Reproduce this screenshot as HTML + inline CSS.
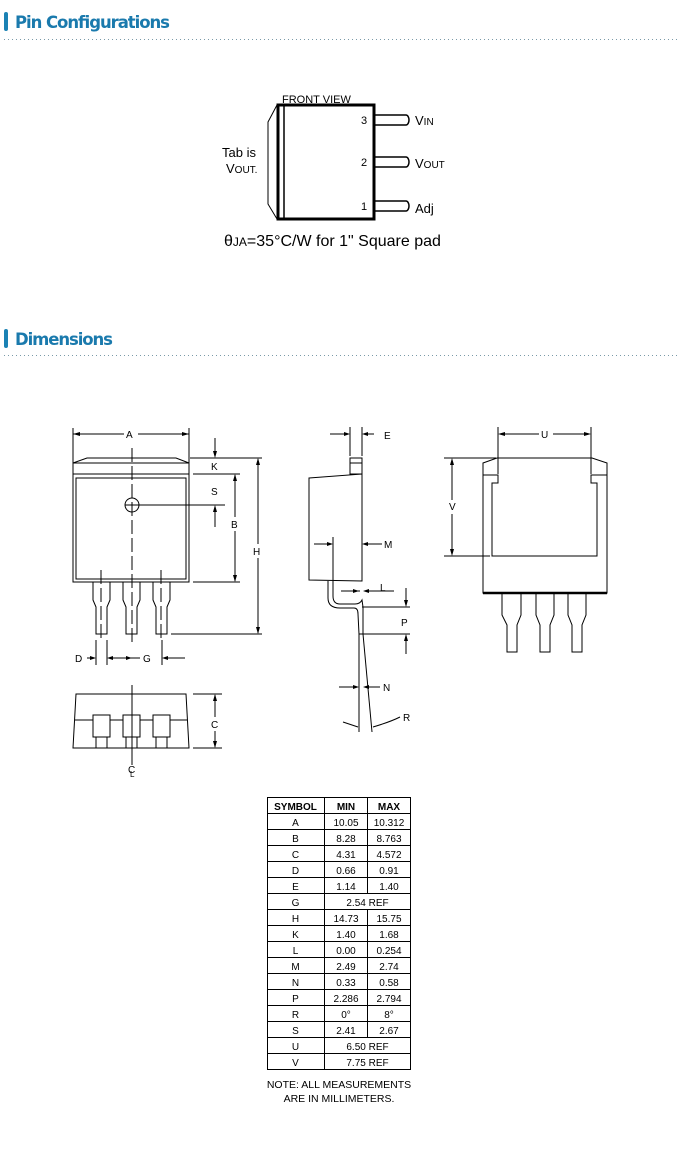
<!DOCTYPE html>
<html><head><meta charset="utf-8"><style>
body{margin:0;background:#fff;width:680px;height:1146px;overflow:hidden;font-family:"Liberation Sans",sans-serif}
</style></head><body>
<svg width="680" height="1146" viewBox="0 0 680 1146" xmlns="http://www.w3.org/2000/svg" font-family="Liberation Sans, sans-serif">
<rect x="4" y="12" width="4" height="19" rx="2" fill="#1b82b4"/>
<text x="15" y="28" font-size="16.5" font-weight="bold" fill="#1a7aad" font-family="DejaVu Sans, sans-serif" textLength="155">Pin Configurations</text>
<line x1="4" y1="39.5" x2="680" y2="39.5" stroke="#7a9aa8" stroke-dasharray="1 3"/>
<rect x="4" y="329" width="4" height="19" rx="2" fill="#1b82b4"/>
<text x="15" y="345" font-size="16.5" font-weight="bold" fill="#1a7aad" font-family="DejaVu Sans, sans-serif" textLength="98">Dimensions</text>
<line x1="4" y1="355.5" x2="680" y2="355.5" stroke="#7a9aa8" stroke-dasharray="1 3"/>

<g stroke="#000" fill="none">
<path d="M277,105 L268,122 L268,204 L277,219" stroke-width="1"/>
<rect x="278" y="105" width="96" height="114" stroke-width="3"/>
<line x1="284" y1="105" x2="284" y2="219" stroke-width="1.5"/>
<path d="M375,115 H406 a3,5 0 0 1 0,10 H375" stroke-width="1.5"/>
<path d="M375,157 H406 a3,5 0 0 1 0,10 H375" stroke-width="1.5"/>
<path d="M375,201 H406 a3,5 0 0 1 0,10 H375" stroke-width="1.5"/>
</g>
<g font-size="11">
<text x="282" y="103">FRONT VIEW</text>
<text x="361" y="124">3</text><text x="361" y="166">2</text><text x="361" y="210">1</text>
<text x="415" y="125" font-size="13">V<tspan font-size="10">IN</tspan></text>
<text x="415" y="168" font-size="13">V<tspan font-size="10">OUT</tspan></text>
<text x="415" y="213" font-size="13">Adj</text>
<text x="222" y="157" font-size="13">Tab is</text>
<text x="226" y="173" font-size="13">V<tspan font-size="10">OUT.</tspan></text>
<text x="224" y="246" font-size="16">θ<tspan font-size="12">JA</tspan>=35°C/W for 1" Square pad</text>
</g>

<g stroke="#000" fill="none" stroke-width="1">
<line x1="73" y1="428" x2="73" y2="464"/><line x1="189" y1="428" x2="189" y2="464"/>
<line x1="73" y1="434" x2="124" y2="434"/><line x1="138" y1="434" x2="189" y2="434"/>
<path d="M73,463 L87,458 L176,458 L189,463 Z M73,463 V582 H189 V463"/>
<line x1="73" y1="474" x2="189" y2="474"/>
<rect x="76" y="478" width="110" height="101"/>
<circle cx="132" cy="505" r="7"/>
<line x1="125" y1="505" x2="139" y2="505"/><line x1="139" y1="505" x2="225" y2="505"/>
<line x1="132" y1="448" x2="132" y2="642" stroke-dasharray="14 4"/>
<line x1="101" y1="570" x2="101" y2="642" stroke-dasharray="14 4"/>
<line x1="161" y1="570" x2="161" y2="642" stroke-dasharray="14 4"/>
<path d="M93,582 V600 L96,607 V634 H107 V607 L110,600 V582"/>
<path d="M123,582 V600 L126,607 V634 H137 V607 L140,600 V582"/>
<path d="M153,582 V600 L156,607 V634 H167 V607 L170,600 V582"/>
<line x1="190" y1="458" x2="262" y2="458"/>
<line x1="193" y1="474" x2="240" y2="474"/>
<line x1="193" y1="582" x2="240" y2="582"/>
<line x1="171" y1="634" x2="262" y2="634"/>
<line x1="215" y1="438" x2="215" y2="456"/>
<line x1="215" y1="507" x2="215" y2="527"/>
<line x1="235" y1="475" x2="235" y2="517"/><line x1="235" y1="531" x2="235" y2="581"/>
<line x1="258" y1="459" x2="258" y2="544"/><line x1="258" y1="558" x2="258" y2="633"/>
<line x1="96" y1="640" x2="96" y2="665"/><line x1="107" y1="640" x2="107" y2="665"/>
<line x1="162" y1="640" x2="162" y2="665"/>
<line x1="87" y1="658" x2="94" y2="658"/><line x1="109" y1="658" x2="140" y2="658"/>
<line x1="164" y1="658" x2="185" y2="658"/>
<path d="M76,694 H186 L189,748 H73 Z"/>
<line x1="75" y1="720" x2="187" y2="720"/>
<rect x="93" y="715" width="17" height="22" fill="#fff"/><rect x="96" y="737" width="11" height="11"/>
<rect x="123" y="715" width="17" height="22" fill="#fff"/><rect x="126" y="737" width="11" height="11"/>
<rect x="153" y="715" width="17" height="22" fill="#fff"/><rect x="156" y="737" width="11" height="11"/>
<line x1="132" y1="685" x2="132" y2="765"/>
<line x1="193" y1="694" x2="222" y2="694"/><line x1="193" y1="748" x2="222" y2="748"/>
<line x1="215" y1="695" x2="215" y2="717"/><line x1="215" y1="731" x2="215" y2="747"/>
</g>
<g fill="#000">
<path d="M73,434 l7,-2 v4z M189,434 l-7,-2 v4z M215,458 l-2,-7 h4z M215,505 l-2,7 h4z M235,474 l-2,7 h4z M235,582 l-2,-7 h4z M258,458 l-2,7 h4z M258,634 l-2,-7 h4z M96,658 l-6,-2 v4z M107,658 l6,-2 v4z M132,658 l-6,-2 v4z M162,658 l6,-2 v4z M215,694 l-2,7 h4z M215,748 l-2,-7 h4z"/>
</g>
<g font-size="10">
<text x="126" y="438">A</text><text x="211" y="470">K</text><text x="211" y="495">S</text>
<text x="231" y="528">B</text><text x="253" y="555">H</text>
<text x="75" y="662">D</text><text x="143" y="662">G</text>
<text x="211" y="728">C</text><text x="128" y="773">C</text><text x="130" y="777" font-size="8">L</text>
</g>

<g stroke="#000" fill="none" stroke-width="1">
<line x1="350" y1="427" x2="350" y2="456"/><line x1="362" y1="427" x2="362" y2="456"/>
<line x1="330" y1="434" x2="348" y2="434"/><line x1="364" y1="434" x2="374" y2="434"/>
<rect x="350" y="458" width="12" height="16"/><line x1="350" y1="463" x2="362" y2="463"/>
<path d="M309,478 L362,474 V581 L309,580 Z"/>
<line x1="314" y1="544" x2="331" y2="544"/><line x1="364" y1="544" x2="382" y2="544"/>
<line x1="333" y1="537" x2="333" y2="585"/>
<path d="M328,581 V598 Q328,608 340,608 H354 Q358,608 358,614 L359,634 H363 V607 L362,600 Q360,604 355,604 H340 Q333,604 333,596 V581"/>
<line x1="341" y1="591" x2="360" y2="591"/><line x1="365" y1="591" x2="394" y2="591"/>
<line x1="362" y1="607" x2="410" y2="607"/><line x1="362" y1="634" x2="410" y2="634"/>
<line x1="406" y1="588" x2="406" y2="605"/><line x1="406" y1="636" x2="406" y2="654"/>
<line x1="359" y1="634" x2="359" y2="732"/><line x1="363" y1="634" x2="372" y2="732"/>
<line x1="339" y1="687" x2="357" y2="687"/><line x1="365" y1="687" x2="380" y2="687"/>
<path d="M343,722 Q352,725 358,727"/><path d="M373,727 Q390,722 400,717"/>
<line x1="498" y1="427" x2="498" y2="474"/><line x1="591" y1="427" x2="591" y2="474"/>
<line x1="500" y1="434" x2="539" y2="434"/><line x1="553" y1="434" x2="589" y2="434"/>
<path d="M483,463 L497,458 H592 L607,463 V593 H483 Z"/>
<path d="M483,475 H498 V483 H492 V556 H597 V483 H591 V475 H607"/>
<line x1="444" y1="458" x2="496" y2="458"/><line x1="444" y1="556" x2="490" y2="556"/>
<line x1="452" y1="460" x2="452" y2="500"/><line x1="452" y1="514" x2="452" y2="554"/>
<path d="M502,593 V615 L507,625 V652 H517 V625 L521,615 V593"/>
<path d="M536,593 V615 L540,625 V652 H550 V625 L554,615 V593"/>
<path d="M568,593 V615 L572,625 V652 H582 V625 L586,615 V593"/>
</g>
<line x1="483" y1="593" x2="607" y2="593" stroke="#000" stroke-width="2.5"/>
<g fill="#000">
<path d="M350,434 l-6,-2 v4z M362,434 l6,-2 v4z M333,544 l-6,-2 v4z M362,544 l6,-2 v4z M359,591 l-6,-2 v4z M363,591 l6,-2 v4z M406,607 l-2,-7 h4z M406,634 l-2,7 h4z M359,687 l-6,-2 v4z M363,687 l6,-2 v4z M498,434 l7,-2 v4z M591,434 l-7,-2 v4z M452,458 l-2,7 h4z M452,556 l-2,-7 h4z"/>
</g>
<g font-size="10">
<text x="384" y="439">E</text><text x="384" y="548">M</text><text x="380" y="591">L</text>
<text x="401" y="626">P</text><text x="383" y="691">N</text><text x="403" y="721">R</text>
<text x="541" y="438">U</text><text x="449" y="510">V</text>
</g>

<!-- table -->
<g stroke="#000" fill="none" stroke-width="1">
<rect x="267.5" y="797.5" width="143" height="272"/>
<line x1="324.5" y1="797" x2="324.5" y2="1070"/>
<line x1="367.5" y1="797.5" x2="367.5" y2="893.5"/>
<line x1="367.5" y1="909.5" x2="367.5" y2="1037.5"/>
<line x1="267" y1="813.5" x2="411" y2="813.5"/><line x1="267" y1="829.5" x2="411" y2="829.5"/>
<line x1="267" y1="845.5" x2="411" y2="845.5"/><line x1="267" y1="861.5" x2="411" y2="861.5"/>
<line x1="267" y1="877.5" x2="411" y2="877.5"/><line x1="267" y1="893.5" x2="411" y2="893.5"/>
<line x1="267" y1="909.5" x2="411" y2="909.5"/><line x1="267" y1="925.5" x2="411" y2="925.5"/>
<line x1="267" y1="941.5" x2="411" y2="941.5"/><line x1="267" y1="957.5" x2="411" y2="957.5"/>
<line x1="267" y1="973.5" x2="411" y2="973.5"/><line x1="267" y1="989.5" x2="411" y2="989.5"/>
<line x1="267" y1="1005.5" x2="411" y2="1005.5"/><line x1="267" y1="1021.5" x2="411" y2="1021.5"/>
<line x1="267" y1="1037.5" x2="411" y2="1037.5"/><line x1="267" y1="1053.5" x2="411" y2="1053.5"/>
</g>
<g font-size="10" text-anchor="middle">
<g font-weight="bold"><text x="295.5" y="810">SYMBOL</text><text x="346" y="810">MIN</text><text x="389" y="810">MAX</text></g>
<text x="295.5" y="826">A</text><text x="346" y="826">10.05</text><text x="389" y="826">10.312</text>
<text x="295.5" y="842">B</text><text x="346" y="842">8.28</text><text x="389" y="842">8.763</text>
<text x="295.5" y="858">C</text><text x="346" y="858">4.31</text><text x="389" y="858">4.572</text>
<text x="295.5" y="874">D</text><text x="346" y="874">0.66</text><text x="389" y="874">0.91</text>
<text x="295.5" y="890">E</text><text x="346" y="890">1.14</text><text x="389" y="890">1.40</text>
<text x="295.5" y="906">G</text><text x="367.5" y="906">2.54 REF</text>
<text x="295.5" y="922">H</text><text x="346" y="922">14.73</text><text x="389" y="922">15.75</text>
<text x="295.5" y="938">K</text><text x="346" y="938">1.40</text><text x="389" y="938">1.68</text>
<text x="295.5" y="954">L</text><text x="346" y="954">0.00</text><text x="389" y="954">0.254</text>
<text x="295.5" y="970">M</text><text x="346" y="970">2.49</text><text x="389" y="970">2.74</text>
<text x="295.5" y="986">N</text><text x="346" y="986">0.33</text><text x="389" y="986">0.58</text>
<text x="295.5" y="1002">P</text><text x="346" y="1002">2.286</text><text x="389" y="1002">2.794</text>
<text x="295.5" y="1018">R</text><text x="346" y="1018">0°</text><text x="389" y="1018">8°</text>
<text x="295.5" y="1034">S</text><text x="346" y="1034">2.41</text><text x="389" y="1034">2.67</text>
<text x="295.5" y="1050">U</text><text x="367.5" y="1050">6.50 REF</text>
<text x="295.5" y="1066">V</text><text x="367.5" y="1066">7.75 REF</text>
</g>
<g font-size="10.5" text-anchor="middle">
<text x="339" y="1088">NOTE: ALL MEASUREMENTS</text>
<text x="339" y="1102">ARE IN MILLIMETERS.</text>
</g>
</svg>
</body></html>
